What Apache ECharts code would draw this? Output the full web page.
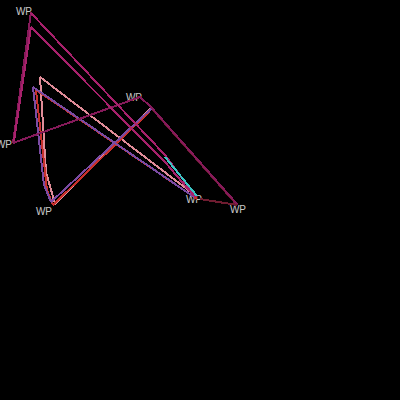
<!DOCTYPE html>
<html><head><meta charset="utf-8">
<style>html,body{margin:0;padding:0;background:#000}#c{width:400px;height:400px}#c svg path{shape-rendering:crispEdges}</style>
<script src="https://cdn.jsdelivr.net/npm/echarts@6/dist/echarts.min.js"></script>
</head><body><div id="c"></div><script>
// track vertices (x, y) in chart units
const trackDarkMagenta = [[31,12],[13,143],[140,97],[151,107],[237,204]];
const trackMagentaOuter = [[31,13],[165,155],[196,197]];
const trackMagentaInner = [[14,141],[31,27],[165,162],[194,196]];
const trackPink = [[196,196],[40,77],[46,172],[55,204],[150,109]];
const trackPurple = [[194,197],[33,87],[44,185],[51,202],[152,108]];
const trackRed = [[197,199],[36,90],[47,190],[53,205],[150,111]];
const trackDarkRed = [[153,110],[237,205],[200,199]];
const trackTeal = [[165,157],[197,196]];
// waypoint labels
const wpNames = ['WP','WP','WP','WP','WP','WP'];
const wpPoints = [[32,11],[12,144],[142,97],[52,211],[202,199],[246,209]];

const tracks = [
  {data: trackPink, color: '#e08c98'},
  {data: trackRed, color: '#c8302c'},
  {data: trackPurple, color: '#7b4ba3'},
  {data: trackDarkRed, color: '#6e1c30'},
  {data: trackDarkMagenta, color: '#861a5a'},
  {data: trackMagentaOuter, color: '#a8216c'},
  {data: trackMagentaInner, color: '#a8216c'},
  {data: trackTeal, color: '#3cc4c4'}
];

const chart = echarts.init(document.getElementById('c'), null, {renderer: 'svg'});
const series = tracks.map(t => ({
  type: 'line', data: t.data, showSymbol: false, silent: true, animation: false,
  lineStyle: {color: t.color, width: 2}
}));
series.push({
  type: 'scatter', symbolSize: 0, animation: false,
  data: wpPoints.map((p, i) => ({value: p, name: wpNames[i]})),
  label: {show: true, position: 'left', distance: 0, formatter: '{b}', color: '#ffffff',
          fontSize: 10, fontFamily: 'Liberation Sans, Arial, sans-serif'}
});
chart.setOption({
  backgroundColor: '#000000',
  animation: false,
  grid: {left: 0, right: 0, top: 0, bottom: 0},
  xAxis: {type: 'value', min: 0, max: 400, show: false},
  yAxis: {type: 'value', min: 0, max: 400, inverse: true, show: false},
  series: series
});
</script></body></html>
